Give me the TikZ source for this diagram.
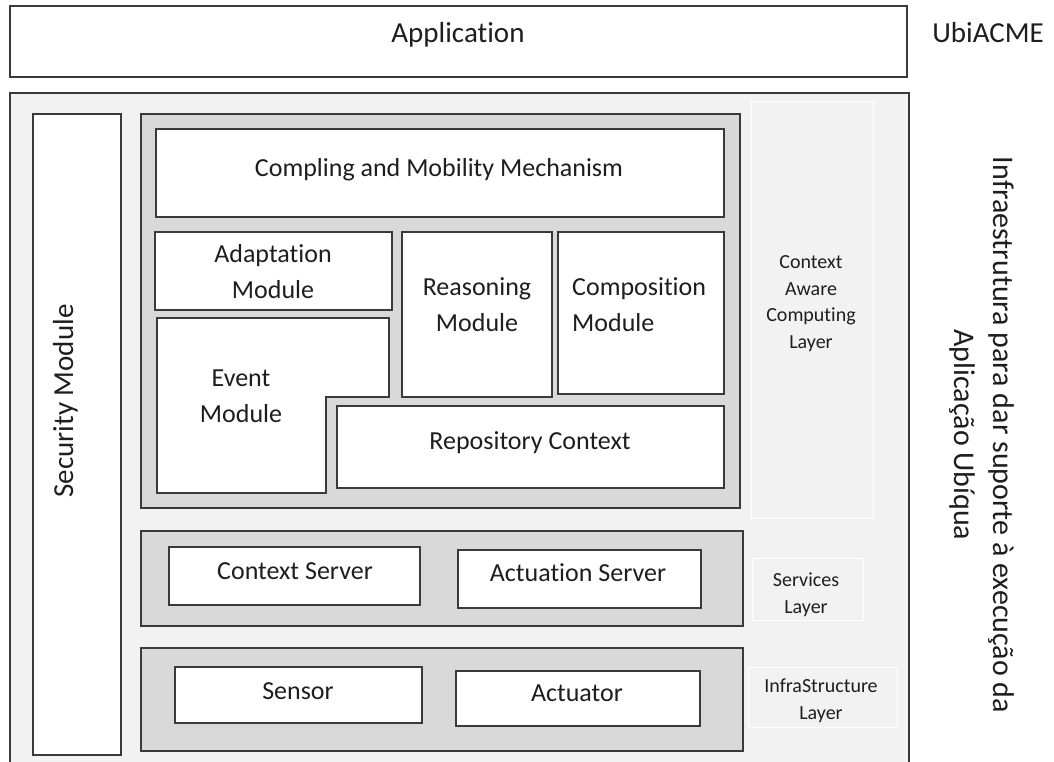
\documentclass[tikz,border=0pt]{standalone}
\usepackage{fontspec}
\setmainfont{Carlito}[Ligatures=NoCommon]
\definecolor{panel}{HTML}{F2F2F2}
\definecolor{layer}{HTML}{D9D9D9}
\definecolor{edge}{HTML}{3A3A3A}
\definecolor{ink}{HTML}{1E1E1E}
\begin{document}
\begin{tikzpicture}[x=1pt,y=-1pt,
  panelbox/.style={fill=panel,draw=edge,line width=1.1pt},
  layerbox/.style={fill=layer,draw=edge,line width=1.1pt},
  modbox/.style={fill=white,draw=edge,line width=1.1pt},
  tagbox/.style={fill=panel,draw=white,line width=1pt},
  txt/.style={text=ink,inner sep=0pt,anchor=base,font=\fontsize{26}{35.5}\selectfont},
  bigtxt/.style={txt,font=\fontsize{29}{38}\selectfont},
  tagtxt/.style={txt,align=center,font=\fontsize{20}{26.5}\selectfont},
  two/.style={align=center}]
\useasboundingbox (0,0) rectangle (1054,762);
\fill[white] (0,0) rectangle (1054,762);

% application layer on top
\draw[modbox] (10,6) rectangle (907,77);
\node[bigtxt] (app) at (458,43) {Application};
\node[bigtxt] (ubi) at (988,43) {UbiACME};

% infrastructure panel (open at the page bottom)
\fill[panel] (10,93) rectangle (909,762);
\draw[edge,line width=1.1pt] (10,762) -- (10,93) -- (909,93) -- (909,762);

% security module column
\draw[modbox] (33,114) rectangle (121,755);
\node[bigtxt,rotate=90] (sec) at (73,401) {Security Module};

% context aware computing layer
\draw[layerbox] (141,114) rectangle (740,508);
\draw[modbox] (156,129) rectangle (724,217);
\node[txt] (coupling) at (439,177) {Compling and Mobility Mechanism};
\draw[modbox] (155,232) rectangle (392,310);
\node[txt,two] (adapt) at (273,298) {Adaptation\\Module};
\draw[modbox] (157,318) -- (389,318) -- (389,397) -- (326,397) -- (326,493) -- (157,493) -- cycle;
\node[txt,two] (event) at (241,422) {Event\\Module};
\draw[modbox] (402,232) rectangle (552,397);
\node[txt,two] (reason) at (477,331) {Reasoning\\Module};
\draw[modbox] (558,232) rectangle (724,394);
\node[txt,align=left,anchor=base west] (compo) at (572,331) {Composition\\Module};
\draw[modbox] (337,406) rectangle (724,488);
\node[txt] (repo) at (530,449) {Repository Context};

% services layer
\draw[layerbox] (141,531) rectangle (743,626);
\draw[modbox] (169,547) rectangle (420,605);
\node[txt] (ctxsrv) at (295,579) {Context Server};
\draw[modbox] (458,550) rectangle (701,608);
\node[txt] (actsrv) at (578,581) {Actuation Server};

% infrastructure layer
\draw[layerbox] (141,648) rectangle (743,751);
\draw[modbox] (175,667) rectangle (422,723);
\node[txt] (sensor) at (298,699) {Sensor};
\draw[modbox] (456,671) rectangle (700,726);
\node[txt] (actuator) at (577,701) {Actuator};

% layer captions
\draw[tagbox] (751,102) rectangle (873,518);
\node[tagtxt] (tagctx) at (811,348) {Context\\Aware\\Computing\\Layer};
\draw[tagbox] (752,558) rectangle (863,620);
\node[tagtxt] (tagsrv) at (806,613) {Services\\Layer};
\draw[tagbox] (748,667) rectangle (897,727);
\node[tagtxt] (taginf) at (821,719) {InfraStructure\\Layer};

% side caption
\node[txt,rotate=-90,align=center,font=\fontsize{30}{39}\selectfont] (side) at (954,435)
  {Infraestrutura para dar suporte à execução da\\Aplicação Ubíqua};
\end{tikzpicture}
\end{document}
